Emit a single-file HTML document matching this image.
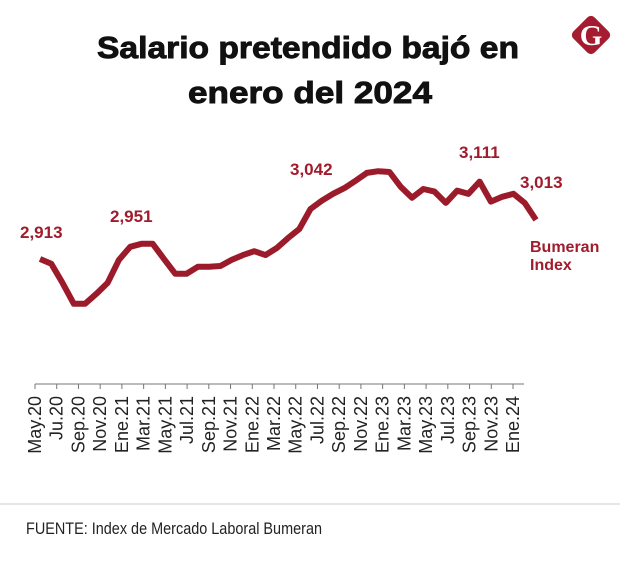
<!DOCTYPE html>
<html><head><meta charset="utf-8"><style>
html,body{margin:0;padding:0;background:#fff;}
svg{display:block;font-family:"Liberation Sans",sans-serif;}
</style></head><body>
<svg id="chart" width="620" height="573" viewBox="0 0 620 573">
<text x="308" y="58" text-anchor="middle" font-size="31" font-weight="bold" fill="#111" stroke="#111" stroke-width="0.9" textLength="422" lengthAdjust="spacingAndGlyphs">Salario pretendido bajó en</text>
<text x="310" y="103" text-anchor="middle" font-size="31" font-weight="bold" fill="#111" stroke="#111" stroke-width="0.9" textLength="244" lengthAdjust="spacingAndGlyphs">enero del 2024</text>
<g>
<rect x="576" y="20" width="30" height="30" rx="5" fill="#a51c30" transform="rotate(45 591 35)"/>
<text x="591" y="45" text-anchor="middle" font-family="Liberation Serif,serif" font-weight="bold" font-size="29" fill="#fff">G</text>
</g>
<line x1="35" y1="384" x2="524" y2="384" stroke="#777" stroke-width="1"/>
<g id="ticks"></g>
<g id="marks"></g>
<text x="20" y="238" font-size="17" font-weight="bold" fill="#a01c2c">2,913</text>
<text x="110" y="222" font-size="17" font-weight="bold" fill="#a01c2c">2,951</text>
<text x="290" y="175" font-size="17" font-weight="bold" fill="#a01c2c">3,042</text>
<text x="459" y="158" font-size="17" font-weight="bold" fill="#a01c2c">3,111</text>
<text x="520" y="188" font-size="17" font-weight="bold" fill="#a01c2c">3,013</text>
<text x="530" y="252" font-size="16" font-weight="bold" fill="#a01c2c"><tspan x="530">Bumeran</tspan><tspan x="530" dy="18">Index</tspan></text>
<line x1="0" y1="504" x2="620" y2="504" stroke="#ccc" stroke-width="1"/>
<text x="26" y="534" font-size="17" fill="#222" textLength="296" lengthAdjust="spacingAndGlyphs">FUENTE: Index de Mercado Laboral Bumeran</text>
</svg>
<script>
const tickLabels = ["May.20","Ju.20","Sep.20","Nov.20","Ene.21","Mar.21","May.21","Jul.21","Sep.21","Nov.21","Ene.22","Mar.22","May.22","Jul.22","Sep.22","Nov.22","Ene.23","Mar.23","May.23","Jul.23","Sep.23","Nov.23","Ene.24"];
const salaryValues = [2913,2902,2858,2810,2810,2833,2858,2911,2941,2948,2948,2913,2879,2879,2895,2895,2897,2911,2922,2931,2922,2938,2961,2982,3028,3047,3063,3076,3093,3111,3115,3113,3079,3054,3074,3068,3042,3070,3063,3091,3045,3056,3063,3042,3003];
const NS="http://www.w3.org/2000/svg";
const n = salaryValues.length;
function xLine(i){return 40 + i*(496/(n-1));}
function xTick(i){return 35 + i*(478/(tickLabels.length-1));}
function yScale(v){return 259 - (v-2913)/2.3;}
const tg=document.getElementById('ticks');
tickLabels.forEach((t,i)=>{
  const x=xTick(i);
  const l=document.createElementNS(NS,'line');
  l.setAttribute('x1',x);l.setAttribute('x2',x);l.setAttribute('y1',384);l.setAttribute('y2',389);
  l.setAttribute('stroke','#777');
  
  
  tg.appendChild(l);
  const tx=document.createElementNS(NS,'text');
  tx.setAttribute('transform','translate('+(x+6)+',396) rotate(-90)');
  tx.setAttribute('text-anchor','end');
  tx.setAttribute('font-size','18');
  tx.setAttribute('fill','#222');
  tx.textContent=t;
  
  
  tg.appendChild(tx);
});
const p=document.createElementNS(NS,'polyline');
p.setAttribute('points',salaryValues.map((v,i)=>xLine(i).toFixed(1)+','+yScale(v).toFixed(1)).join(' '));
p.setAttribute('fill','none');p.setAttribute('stroke','#9c1b2b');p.setAttribute('stroke-width','6');
p.setAttribute('stroke-linejoin','round');


document.getElementById('marks').appendChild(p);
</script>
</body></html>
